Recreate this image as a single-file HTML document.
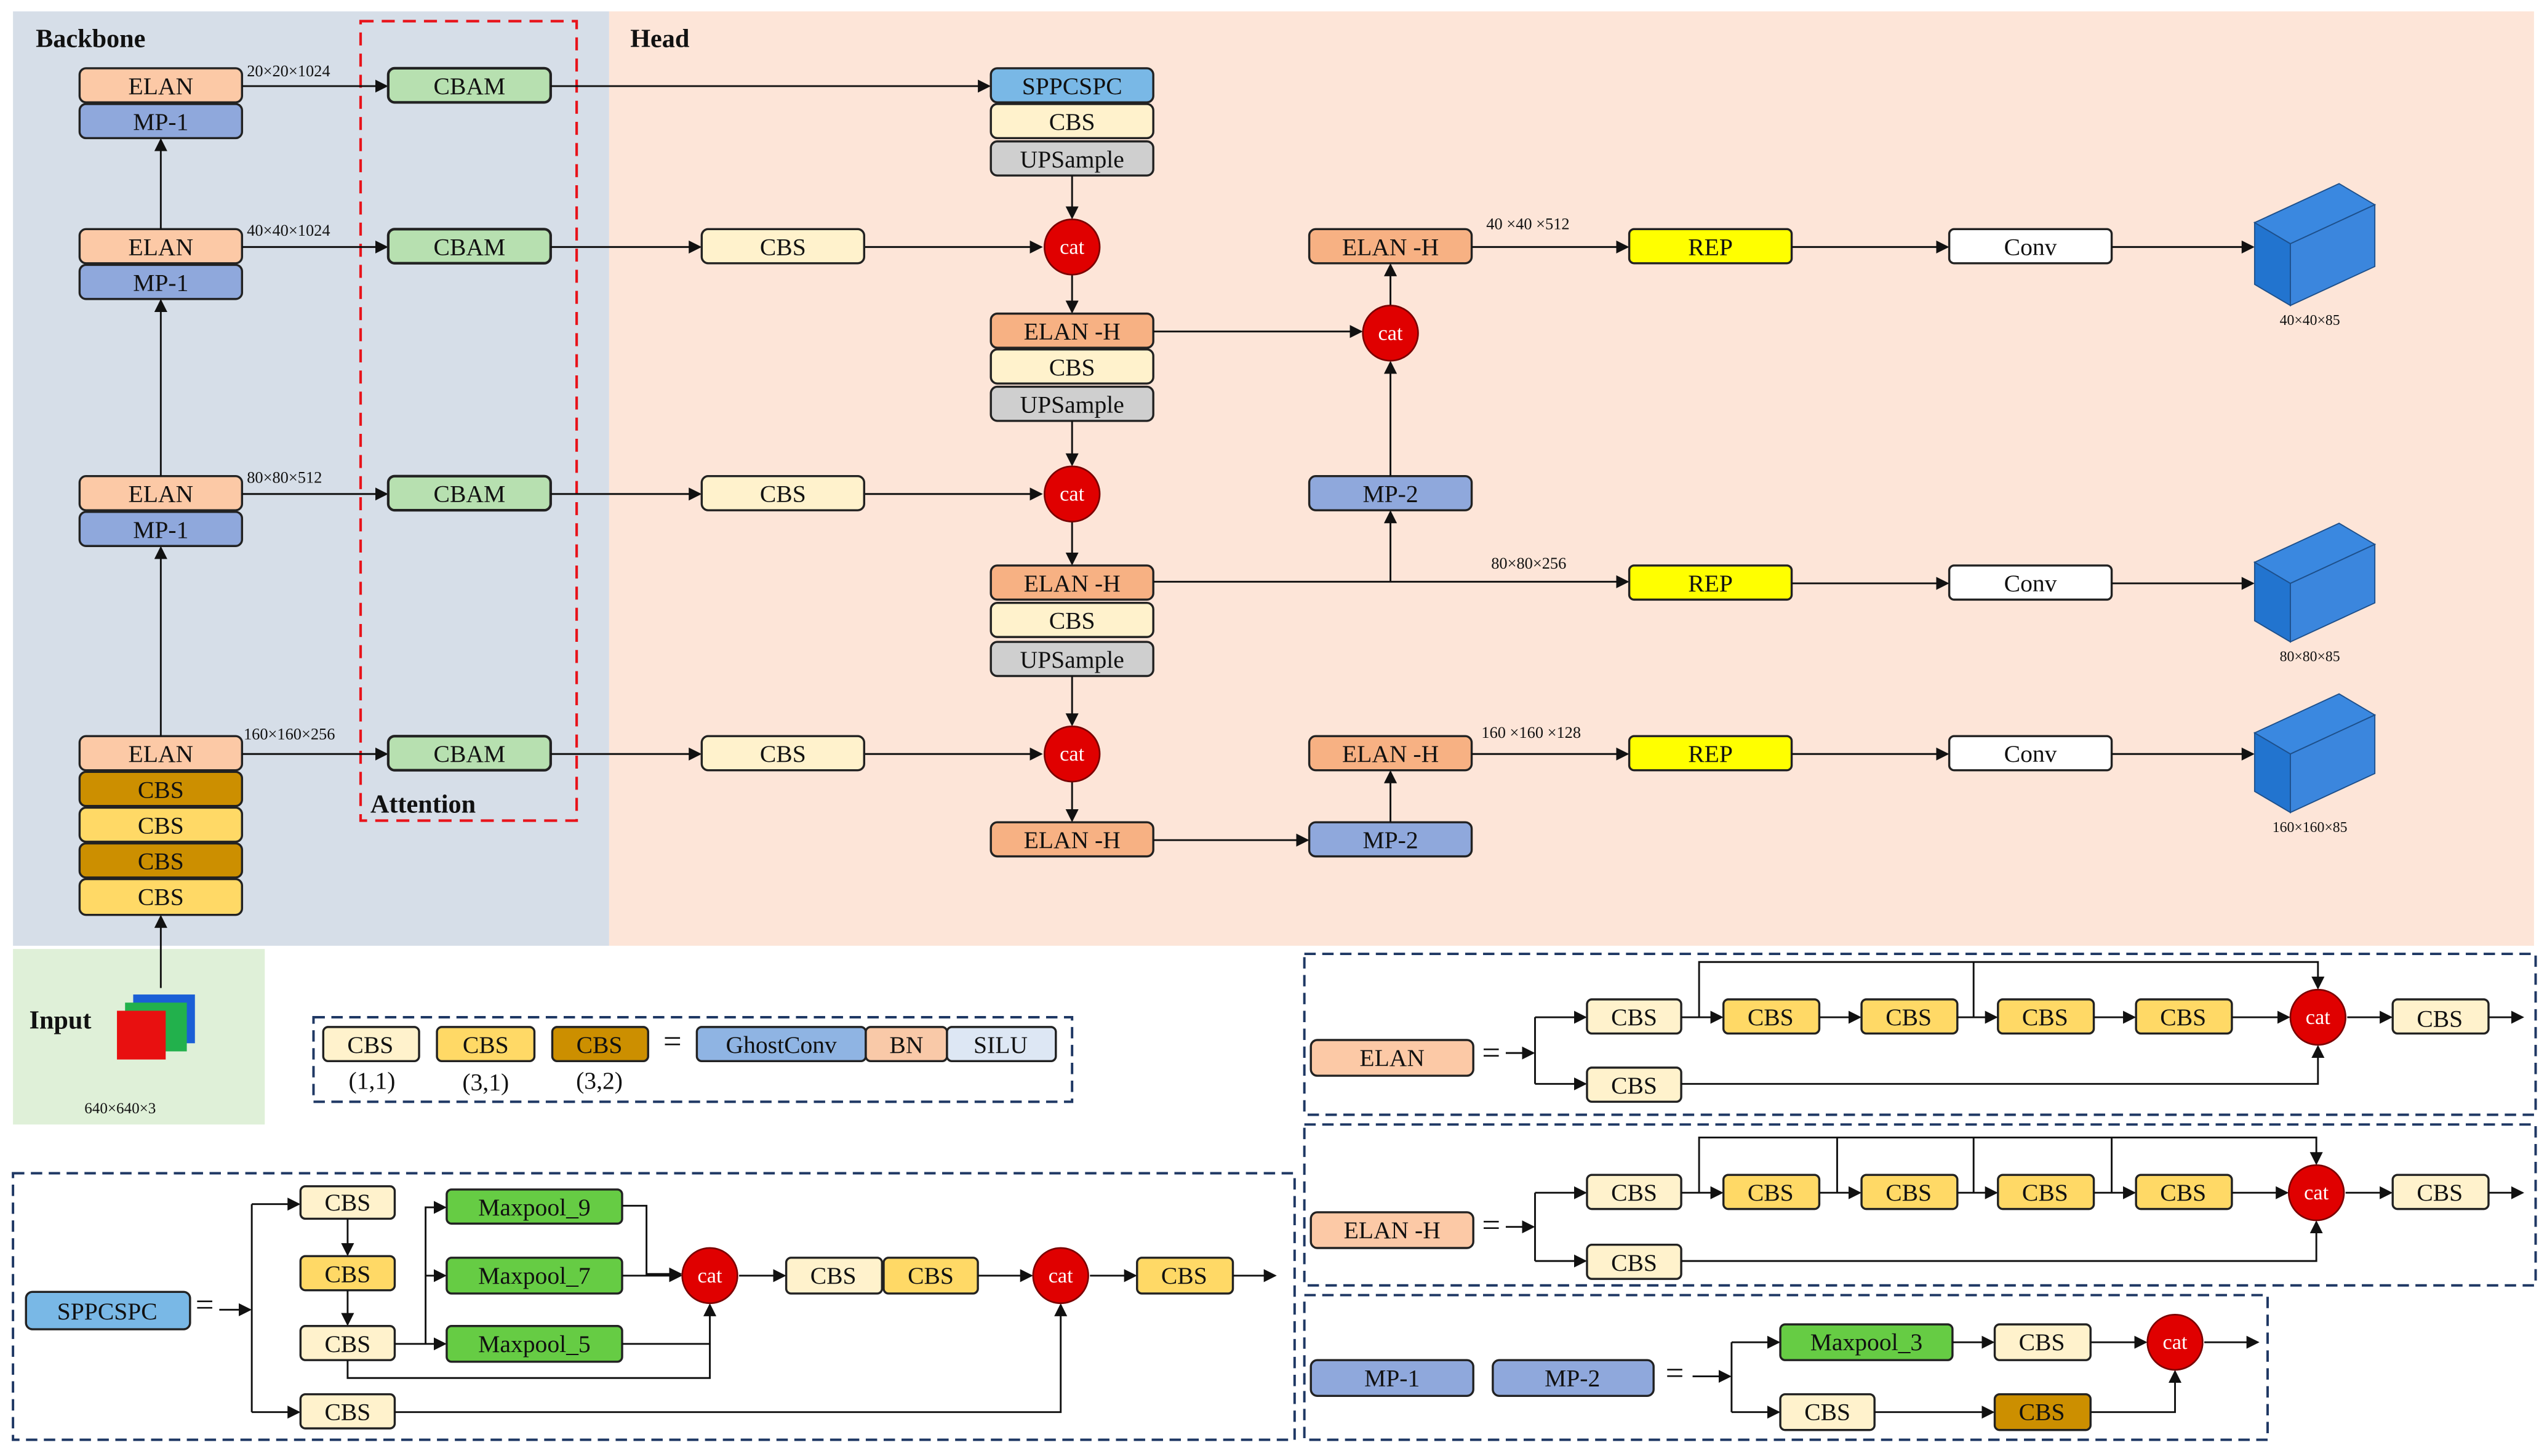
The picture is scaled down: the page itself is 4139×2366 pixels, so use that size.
<!DOCTYPE html>
<html><head><meta charset="utf-8"><style>
html,body{margin:0;padding:0;background:#fff}
svg{display:block}
text{font-family:"Liberation Serif",serif;fill:#111}
.b{stroke:#222;stroke-width:1.3}
.t{font-size:15px;text-anchor:middle;dominant-baseline:central}
.s{font-size:10px}
.l{stroke:#111;stroke-width:1.1;fill:none}
.la{stroke:#111;stroke-width:1.1;fill:none;marker-end:url(#a)}
</style></head><body>
<svg width="4139" height="2366" viewBox="0 0 1568 896" preserveAspectRatio="none" xmlns="http://www.w3.org/2000/svg">
<defs><marker id="a" markerWidth="8" markerHeight="8" refX="7" refY="4" orient="auto" markerUnits="userSpaceOnUse"><path d="M0,0L8,4L0,8Z" fill="#111"/></marker></defs>
<rect x="0" y="0" width="1568" height="896" fill="#fff"/>
<rect x="8" y="7" width="367" height="575" fill="#d6dee8"/>
<rect x="375" y="7" width="1185" height="575" fill="#fde5d8"/>
<rect x="8" y="584" width="155" height="108" fill="#dff0d8"/>
<rect x="222" y="13" width="133" height="492" fill="none" stroke="#e8141b" stroke-width="1.6" stroke-dasharray="8,5"/>
<text x="22" y="29" style="font-size:16px;font-weight:bold">Backbone</text>
<text x="388" y="29" style="font-size:16px;font-weight:bold">Head</text>
<text x="228" y="500" style="font-size:16px;font-weight:bold">Attention</text>

<!-- backbone -->
<g class="b">
<rect x="49" y="42" width="100" height="21" rx="4" fill="#fcc9a6"/><rect x="49" y="64" width="100" height="21" rx="4" fill="#8fa8dc"/>
<rect x="49" y="141" width="100" height="21" rx="4" fill="#fcc9a6"/><rect x="49" y="163" width="100" height="21" rx="4" fill="#8fa8dc"/>
<rect x="49" y="293" width="100" height="21" rx="4" fill="#fcc9a6"/><rect x="49" y="315" width="100" height="21" rx="4" fill="#8fa8dc"/>
<rect x="49" y="453" width="100" height="21" rx="4" fill="#fcc9a6"/>
<rect x="49" y="475" width="100" height="21" rx="4" fill="#cc8f00"/><rect x="49" y="497" width="100" height="21" rx="4" fill="#ffd966"/>
<rect x="49" y="519" width="100" height="21" rx="4" fill="#cc8f00"/><rect x="49" y="541" width="100" height="22" rx="4" fill="#ffd966"/>
</g>
<text class="t" x="99" y="53">ELAN</text><text class="t" x="99" y="75">MP-1</text>
<text class="t" x="99" y="152">ELAN</text><text class="t" x="99" y="174">MP-1</text>
<text class="t" x="99" y="304">ELAN</text><text class="t" x="99" y="326">MP-1</text>
<text class="t" x="99" y="464">ELAN</text><text class="t" x="99" y="486">CBS</text><text class="t" x="99" y="508">CBS</text><text class="t" x="99" y="530">CBS</text><text class="t" x="99" y="552">CBS</text>
<path class="la" d="M99 608V564"/><path class="la" d="M99 453V337"/><path class="la" d="M99 293V185"/><path class="la" d="M99 141V86"/>
<text class="s" x="152" y="47">20×20×1024</text><text class="s" x="152" y="145">40×40×1024</text><text class="s" x="152" y="297">80×80×512</text><text class="s" x="150" y="455">160×160×256</text>
<path class="la" d="M149 53H238"/><path class="la" d="M149 152H238"/><path class="la" d="M149 304H238"/><path class="la" d="M149 464H238"/>
<g class="b" style="stroke-width:1.6">
<rect x="239" y="42" width="100" height="21" rx="4" fill="#b7e0b0"/><rect x="239" y="141" width="100" height="21" rx="4" fill="#b7e0b0"/>
<rect x="239" y="293" width="100" height="21" rx="4" fill="#b7e0b0"/><rect x="239" y="453" width="100" height="21" rx="4" fill="#b7e0b0"/>
</g>
<text class="t" x="289" y="53">CBAM</text><text class="t" x="289" y="152">CBAM</text><text class="t" x="289" y="304">CBAM</text><text class="t" x="289" y="464">CBAM</text>

<!-- head -->
<path class="la" d="M339 53H609"/><path class="la" d="M339 152H431"/><path class="la" d="M339 304H431"/><path class="la" d="M339 464H431"/>
<path class="la" d="M532 152H641"/><path class="la" d="M532 304H641"/><path class="la" d="M532 464H641"/>
<g class="b">
<rect x="432" y="141" width="100" height="21" rx="4" fill="#fff2cc"/><rect x="432" y="293" width="100" height="21" rx="4" fill="#fff2cc"/><rect x="432" y="453" width="100" height="21" rx="4" fill="#fff2cc"/>
<rect x="610" y="42" width="100" height="21" rx="4" fill="#79b8e6"/><rect x="610" y="64" width="100" height="21" rx="4" fill="#fff2cc"/><rect x="610" y="87" width="100" height="21" rx="4" fill="#cfcfcf"/>
<rect x="610" y="193" width="100" height="21" rx="4" fill="#f7b183"/><rect x="610" y="215" width="100" height="21" rx="4" fill="#fff2cc"/><rect x="610" y="238" width="100" height="21" rx="4" fill="#cfcfcf"/>
<rect x="610" y="348" width="100" height="21" rx="4" fill="#f7b183"/><rect x="610" y="371" width="100" height="21" rx="4" fill="#fff2cc"/><rect x="610" y="395" width="100" height="21" rx="4" fill="#cfcfcf"/>
<rect x="610" y="506" width="100" height="21" rx="4" fill="#f7b183"/>
<rect x="806" y="141" width="100" height="21" rx="4" fill="#f7b183"/><rect x="806" y="293" width="100" height="21" rx="4" fill="#8fa8dc"/>
<rect x="806" y="453" width="100" height="21" rx="4" fill="#f7b183"/><rect x="806" y="506" width="100" height="21" rx="4" fill="#8fa8dc"/>
<rect x="1003" y="141" width="100" height="21" rx="3" fill="#ffff00"/><rect x="1003" y="348" width="100" height="21" rx="3" fill="#ffff00"/><rect x="1003" y="453" width="100" height="21" rx="3" fill="#ffff00"/>
<rect x="1200" y="141" width="100" height="21" rx="3" fill="#fff"/><rect x="1200" y="348" width="100" height="21" rx="3" fill="#fff"/><rect x="1200" y="453" width="100" height="21" rx="3" fill="#fff"/>
</g>
<text class="t" x="482" y="152">CBS</text><text class="t" x="482" y="304">CBS</text><text class="t" x="482" y="464">CBS</text>
<text class="t" x="660" y="53">SPPCSPC</text><text class="t" x="660" y="75">CBS</text><text class="t" x="660" y="98">UPSample</text>
<text class="t" x="660" y="204">ELAN -H</text><text class="t" x="660" y="226">CBS</text><text class="t" x="660" y="249">UPSample</text>
<text class="t" x="660" y="359">ELAN -H</text><text class="t" x="660" y="382">CBS</text><text class="t" x="660" y="406">UPSample</text>
<text class="t" x="660" y="517">ELAN -H</text>
<text class="t" x="856" y="152">ELAN -H</text><text class="t" x="856" y="304">MP-2</text><text class="t" x="856" y="464">ELAN -H</text><text class="t" x="856" y="517">MP-2</text>
<text class="t" x="1053" y="152">REP</text><text class="t" x="1053" y="359">REP</text><text class="t" x="1053" y="464">REP</text>
<text class="t" x="1250" y="152">Conv</text><text class="t" x="1250" y="359">Conv</text><text class="t" x="1250" y="464">Conv</text>
<path class="la" d="M660 108V134"/><path class="la" d="M660 169V192"/><path class="la" d="M660 259V286"/><path class="la" d="M660 321V347"/><path class="la" d="M660 416V446"/><path class="la" d="M660 481V505"/>
<path class="la" d="M710 204H838"/><path class="la" d="M856 188V163"/><path class="la" d="M856 293V223"/>
<path class="la" d="M710 358H1002"/><path class="la" d="M856 358V315"/>
<path class="la" d="M710 517H805"/><path class="la" d="M856 506V475"/>
<path class="la" d="M906 152H1002"/><path class="la" d="M906 464H1002"/>
<path class="la" d="M1103 152H1199"/><path class="la" d="M1103 359H1199"/><path class="la" d="M1103 464H1199"/>
<path class="la" d="M1300 152H1387"/><path class="la" d="M1300 359H1387"/><path class="la" d="M1300 464H1387"/>
<g fill="#e00000" stroke="#7a0000" stroke-width="1">
<circle cx="660" cy="152" r="17"/><circle cx="660" cy="304" r="17"/><circle cx="660" cy="464" r="17"/><circle cx="856" cy="205" r="17"/>
</g>
<g style="font-size:13px" class="t"><text class="t" x="660" y="152" style="fill:#fff;font-size:13px">cat</text><text class="t" x="660" y="304" style="fill:#fff;font-size:13px">cat</text><text class="t" x="660" y="464" style="fill:#fff;font-size:13px">cat</text><text class="t" x="856" y="205" style="fill:#fff;font-size:13px">cat</text></g>
<text class="s" x="915" y="141">40 ×40 ×512</text><text class="s" x="918" y="350">80×80×256</text><text class="s" x="912" y="454">160 ×160 ×128</text>
<!-- cubes -->
<g stroke="#1d4f8a" stroke-width="0.7">
<path d="M1388 137L1440 113L1462 126L1410 150Z" fill="#3a88e0"/><path d="M1388 137L1410 150V188L1388 175Z" fill="#2274cf"/><path d="M1410 150L1462 126V164L1410 188Z" fill="#3b86dd"/>
<path d="M1388 346L1440 322L1462 335L1410 359Z" fill="#3a88e0"/><path d="M1388 346L1410 359V395L1388 382Z" fill="#2274cf"/><path d="M1410 359L1462 335V371L1410 395Z" fill="#3b86dd"/>
<path d="M1388 451L1440 427L1462 440L1410 464Z" fill="#3a88e0"/><path d="M1388 451L1410 464V500L1388 487Z" fill="#2274cf"/><path d="M1410 464L1462 440V476L1410 500Z" fill="#3b86dd"/>
</g>
<text class="s" x="1422" y="200" style="text-anchor:middle;font-size:9px">40×40×85</text>
<text class="s" x="1422" y="407" style="text-anchor:middle;font-size:9px">80×80×85</text>
<text class="s" x="1422" y="512" style="text-anchor:middle;font-size:9px">160×160×85</text>

<!-- input -->
<text x="18" y="633" style="font-size:16px;font-weight:bold">Input</text>
<rect x="82" y="612" width="38" height="30" fill="#1a5fd6"/><rect x="77" y="617" width="38" height="30" fill="#22b14c"/><rect x="72" y="622" width="30" height="30" fill="#e81010"/>
<text class="s" x="52" y="685" style="font-size:9.5px">640×640×3</text>

<!-- legend -->
<rect x="193" y="626" width="467" height="52" fill="none" stroke="#1f3864" stroke-width="1.5" stroke-dasharray="7,4"/>
<g class="b">
<rect x="199" y="632" width="59" height="21" rx="3" fill="#fff2cc"/><rect x="269" y="632" width="60" height="21" rx="3" fill="#ffd966"/><rect x="340" y="632" width="59" height="21" rx="3" fill="#cc8f00"/>
<rect x="429" y="632" width="104" height="21" rx="3" fill="#8fb4e3"/><rect x="533" y="632" width="50" height="21" rx="3" fill="#f9c9a8"/><rect x="583" y="632" width="67" height="21" rx="3" fill="#dde7f4"/>
</g>
<text class="t" x="228" y="643">CBS</text><text class="t" x="299" y="643">CBS</text><text class="t" x="369" y="643">CBS</text>
<text class="t" x="229" y="665">(1,1)</text><text class="t" x="299" y="666">(3,1)</text><text class="t" x="369" y="665">(3,2)</text>
<text class="t" x="414" y="641" style="font-size:20px">=</text>
<text class="t" x="481" y="643">GhostConv</text><text class="t" x="558" y="643">BN</text><text class="t" x="616" y="643">SILU</text>

<!-- SPPCSPC panel -->
<rect x="8" y="722" width="789" height="164" fill="none" stroke="#1f3864" stroke-width="1.5" stroke-dasharray="7,4"/>
<rect class="b" x="16" y="795" width="101" height="23" rx="4" fill="#79b8e6"/><text class="t" x="66" y="807">SPPCSPC</text>
<text class="t" x="126" y="803" style="font-size:20px">=</text>
<path class="la" d="M135 806H154"/><path class="l" d="M155 741V869"/>
<path class="la" d="M155 741H184"/><path class="la" d="M155 869H184"/>
<g class="b">
<rect x="185" y="730" width="58" height="20" rx="3" fill="#fff2cc"/><rect x="185" y="773" width="58" height="21" rx="3" fill="#ffd966"/>
<rect x="185" y="816" width="58" height="21" rx="3" fill="#fff2cc"/><rect x="185" y="858" width="58" height="21" rx="3" fill="#fff2cc"/>
<rect x="275" y="732" width="108" height="21" rx="3" fill="#66cc44"/><rect x="275" y="774" width="108" height="22" rx="3" fill="#66cc44"/><rect x="275" y="816" width="108" height="22" rx="3" fill="#66cc44"/>
<rect x="484" y="774" width="59" height="22" rx="3" fill="#fff2cc"/><rect x="544" y="774" width="58" height="22" rx="3" fill="#ffd966"/><rect x="700" y="774" width="59" height="22" rx="3" fill="#ffd966"/>
</g>
<text class="t" x="214" y="740">CBS</text><text class="t" x="214" y="784">CBS</text><text class="t" x="214" y="827">CBS</text><text class="t" x="214" y="869">CBS</text>
<text class="t" x="329" y="743">Maxpool_9</text><text class="t" x="329" y="785">Maxpool_7</text><text class="t" x="329" y="827">Maxpool_5</text>
<text class="t" x="513" y="785">CBS</text><text class="t" x="573" y="785">CBS</text><text class="t" x="729" y="785">CBS</text>
<path class="la" d="M214 750V772"/><path class="la" d="M214 794V815"/>
<path class="la" d="M243 827H274"/><path class="la" d="M262 827V743H274"/><path class="la" d="M262 785H274"/>
<path class="la" d="M383 742H398V784H419"/><path class="la" d="M383 785H419"/><path class="la" d="M383 827H437V803"/>
<path class="l" d="M214 837V848H437V827"/>
<path class="la" d="M455 785H483"/><path class="la" d="M602 785H635"/><path class="la" d="M671 785H699"/><path class="la" d="M759 785H785"/>
<path class="la" d="M243 869H653V803"/>
<circle cx="437" cy="785" r="17" fill="#e00000" stroke="#7a0000"/><circle cx="653" cy="785" r="17" fill="#e00000" stroke="#7a0000"/>
<text class="t" x="437" y="785" style="fill:#fff;font-size:13px">cat</text><text class="t" x="653" y="785" style="fill:#fff;font-size:13px">cat</text>

<!-- ELAN panel -->
<rect x="803" y="587" width="758" height="99" fill="none" stroke="#1f3864" stroke-width="1.5" stroke-dasharray="7,4"/>
<rect class="b" x="807" y="640" width="100" height="22" rx="4" fill="#fcc9a6"/><text class="t" x="857" y="651">ELAN</text>
<text class="t" x="918" y="648" style="font-size:20px">=</text>
<path class="la" d="M927 648H944"/><path class="l" d="M945 626V667"/><path class="la" d="M945 626H976"/><path class="la" d="M945 667H976"/>
<g class="b">
<rect x="977" y="615" width="58" height="21" rx="3" fill="#fff2cc"/><rect x="977" y="657" width="58" height="21" rx="3" fill="#fff2cc"/>
<rect x="1061" y="615" width="59" height="21" rx="3" fill="#ffd966"/><rect x="1146" y="615" width="59" height="21" rx="3" fill="#ffd966"/><rect x="1230" y="615" width="59" height="21" rx="3" fill="#ffd966"/><rect x="1315" y="615" width="59" height="21" rx="3" fill="#ffd966"/>
<rect x="1473" y="615" width="59" height="21" rx="3" fill="#fff2cc"/>
</g>
<text class="t" x="1006" y="626">CBS</text><text class="t" x="1006" y="668">CBS</text><text class="t" x="1090" y="626">CBS</text><text class="t" x="1175" y="626">CBS</text><text class="t" x="1259" y="626">CBS</text><text class="t" x="1344" y="626">CBS</text><text class="t" x="1502" y="627">CBS</text>
<path class="la" d="M1035 626H1060"/><path class="la" d="M1120 626H1145"/><path class="la" d="M1205 626H1229"/><path class="la" d="M1289 626H1314"/><path class="la" d="M1374 626H1409"/>
<path class="la" d="M1046 626V592H1427V608"/><path class="l" d="M1215 626V592"/>
<path class="la" d="M1035 667H1427V644"/><path class="la" d="M1445 626H1472"/><path class="la" d="M1532 626H1553"/>
<circle cx="1427" cy="626" r="17" fill="#e00000" stroke="#7a0000"/><text class="t" x="1427" y="626" style="fill:#fff;font-size:13px">cat</text>

<!-- ELAN-H panel -->
<rect x="803" y="692" width="758" height="99" fill="none" stroke="#1f3864" stroke-width="1.5" stroke-dasharray="7,4"/>
<rect class="b" x="807" y="746" width="100" height="22" rx="4" fill="#fcc9a6"/><text class="t" x="857" y="757">ELAN -H</text>
<text class="t" x="918" y="754" style="font-size:20px">=</text>
<path class="la" d="M927 755H944"/><path class="l" d="M945 734V776"/><path class="la" d="M945 734H976"/><path class="la" d="M945 776H976"/>
<g class="b">
<rect x="977" y="723" width="58" height="21" rx="3" fill="#fff2cc"/><rect x="977" y="766" width="58" height="21" rx="3" fill="#fff2cc"/>
<rect x="1061" y="723" width="59" height="21" rx="3" fill="#ffd966"/><rect x="1146" y="723" width="59" height="21" rx="3" fill="#ffd966"/><rect x="1230" y="723" width="59" height="21" rx="3" fill="#ffd966"/><rect x="1315" y="723" width="59" height="21" rx="3" fill="#ffd966"/>
<rect x="1473" y="723" width="59" height="21" rx="3" fill="#fff2cc"/>
</g>
<text class="t" x="1006" y="734">CBS</text><text class="t" x="1006" y="777">CBS</text><text class="t" x="1090" y="734">CBS</text><text class="t" x="1175" y="734">CBS</text><text class="t" x="1259" y="734">CBS</text><text class="t" x="1344" y="734">CBS</text><text class="t" x="1502" y="734">CBS</text>
<path class="la" d="M1035 734H1060"/><path class="la" d="M1120 734H1145"/><path class="la" d="M1205 734H1229"/><path class="la" d="M1289 734H1314"/><path class="la" d="M1374 734H1408"/>
<path class="la" d="M1046 734V700H1426V716"/><path class="l" d="M1131 734V700M1215 734V700M1300 734V700"/>
<path class="la" d="M1035 776H1426V752"/><path class="la" d="M1444 734H1472"/><path class="la" d="M1532 734H1553"/>
<circle cx="1426" cy="734" r="17" fill="#e00000" stroke="#7a0000"/><text class="t" x="1426" y="734" style="fill:#fff;font-size:13px">cat</text>

<!-- MP panel -->
<rect x="803" y="797" width="593" height="89" fill="none" stroke="#1f3864" stroke-width="1.5" stroke-dasharray="7,4"/>
<g class="b">
<rect x="807" y="837" width="100" height="22" rx="4" fill="#8fa8dc"/><rect x="919" y="837" width="99" height="22" rx="4" fill="#8fa8dc"/>
<rect x="1096" y="815" width="106" height="22" rx="3" fill="#66cc44"/><rect x="1228" y="815" width="59" height="22" rx="3" fill="#fff2cc"/>
<rect x="1096" y="858" width="58" height="22" rx="3" fill="#fff2cc"/><rect x="1228" y="858" width="59" height="22" rx="3" fill="#cc8f00"/>
</g>
<text class="t" x="857" y="848">MP-1</text><text class="t" x="968" y="848">MP-2</text>
<text class="t" x="1031" y="845" style="font-size:20px">=</text>
<text class="t" x="1149" y="826">Maxpool_3</text><text class="t" x="1257" y="826">CBS</text><text class="t" x="1125" y="869">CBS</text><text class="t" x="1257" y="869">CBS</text>
<path class="la" d="M1042 847H1065"/><path class="l" d="M1066 826V869"/><path class="la" d="M1066 826H1095"/><path class="la" d="M1066 869H1095"/>
<path class="la" d="M1202 826H1227"/><path class="la" d="M1154 869H1227"/><path class="la" d="M1287 826H1321"/><path class="la" d="M1287 869H1339V844"/><path class="la" d="M1357 826H1390"/>
<circle cx="1339" cy="826" r="17" fill="#e00000" stroke="#7a0000"/><text class="t" x="1339" y="826" style="fill:#fff;font-size:13px">cat</text>
</svg>
</body></html>
